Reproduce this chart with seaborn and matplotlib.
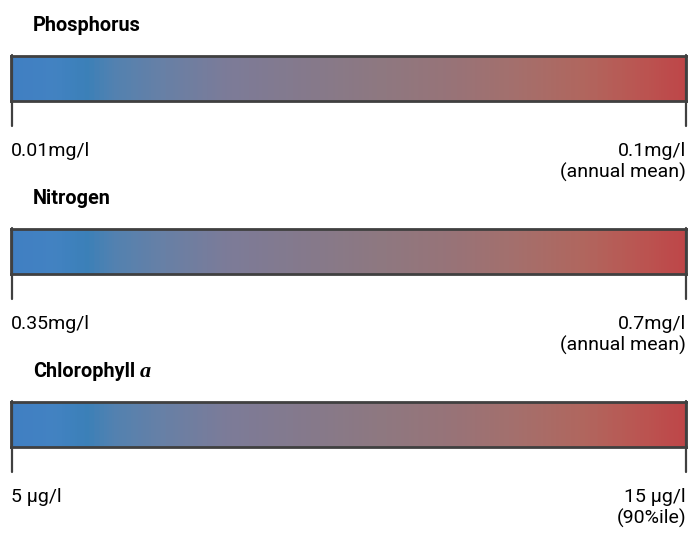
import numpy as np
import seaborn as sns
import matplotlib.pyplot as plt
from matplotlib.colors import LinearSegmentedColormap
from matplotlib.lines import Line2D

# nutrient thresholds shown on each scale
nutrients = ["Phosphorus", "Nitrogen", "Chlorophyll"]
low_labels = ["0.01mg/l", "0.35mg/l", "5 µg/l"]
high_labels = ["0.1mg/l", "0.7mg/l", "15 µg/l"]
notes = ["(annual mean)", "(annual mean)", "(90%ile)"]

# colour stops of the blue -> red gradient
stop_pos = [0.0, 0.06, 0.11, 0.15, 0.22, 0.32, 0.45, 0.55, 0.65, 0.75, 0.85, 0.93, 1.0]
stop_col = ["#407fc2", "#4282c2", "#3b80b8", "#5281b0", "#6680a6", "#7c7b98",
            "#86798a", "#8e7880", "#977378", "#a46f6c", "#b0665e", "#ba5652", "#be4648"]

sns.set_style("white")
plt.rcParams["font.family"] = ["Roboto", "DejaVu Sans"]

W, H = 690, 556
fig = plt.figure(figsize=(W / 100, H / 100), dpi=100)

cmap = LinearSegmentedColormap.from_list("grad", list(zip(stop_pos, stop_col)))
grad = np.linspace(0, 1, 400).reshape(1, -1)

x0, x1 = 11, 686
step = 173
edge = "#404040"

for i, name in enumerate(nutrients):
    off = i * step
    top, bot = 56 + off, 101 + off
    ax = fig.add_axes([x0 / W, 1 - bot / H, (x1 - x0) / W, (bot - top) / H])
    sns.heatmap(grad, cmap=cmap, cbar=False, ax=ax, xticklabels=False, yticklabels=False)
    for s in ax.spines.values():
        s.set_visible(True)
        s.set_color(edge)
        s.set_linewidth(2)

    # end ticks
    for xx in (x0 + 1, x1):
        fig.add_artist(Line2D([xx / W, xx / W], [1 - (55 + off) / H, 1 - (126 + off) / H],
                              color=edge, lw=1.6, transform=fig.transFigure))

    t = fig.text(33 / W, 1 - (31 + off) / H, name, fontsize=14.3, fontweight="bold",
                 color="black", va="baseline")
    if name == "Chlorophyll":
        fig.canvas.draw()
        bb = t.get_window_extent()
        fig.text((bb.x1 + 5) / W, 1 - (31 + off) / H, "a", fontsize=16, fontweight="bold",
                 style="italic", family="Liberation Serif", color="black", va="baseline")

    fig.text(x0 / W, 1 - (156 + off) / H, low_labels[i], fontsize=14, va="baseline", color="black")
    fig.text(x1 / W, 1 - (156 + off) / H, high_labels[i], fontsize=14, va="baseline", ha="right", color="black")
    fig.text(x1 / W, 1 - (178 + off) / H, notes[i], fontsize=14, va="baseline", ha="right", color="black")

plt.savefig("out.png", dpi=100)
